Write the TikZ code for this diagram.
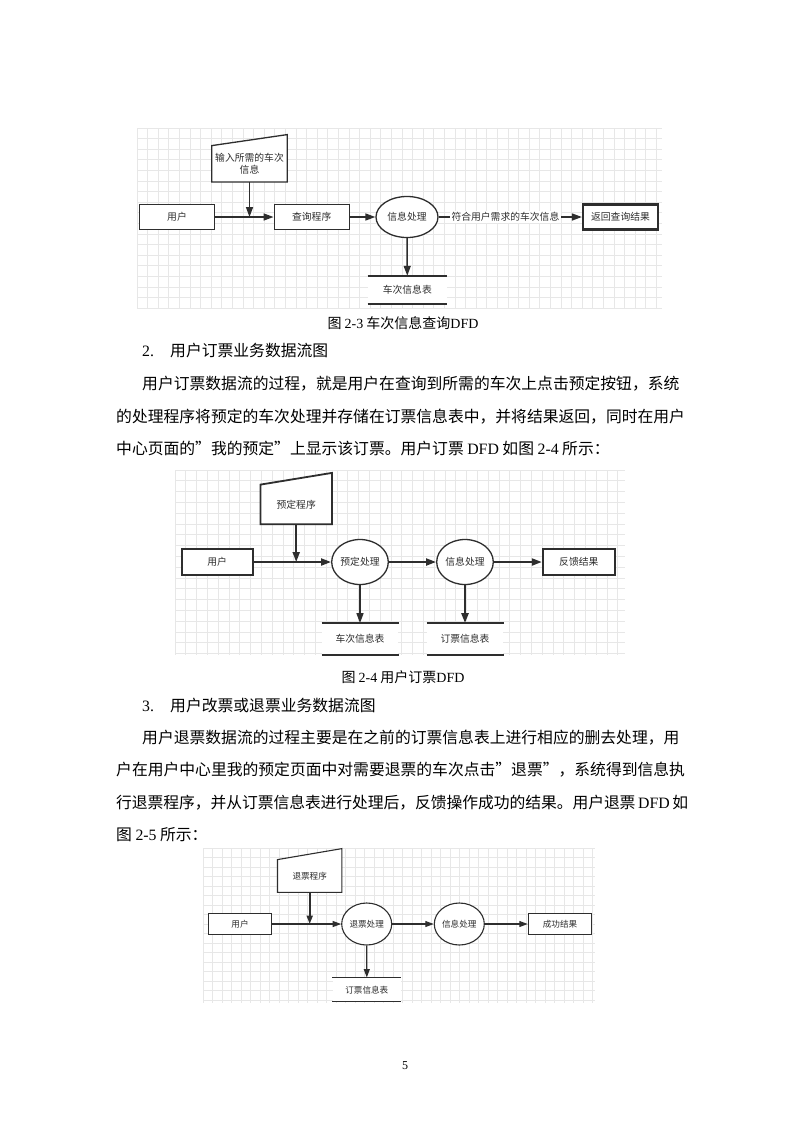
\documentclass[tikz,border=0pt]{standalone}
\usepackage{fontspec}
\setmainfont{Noto Sans CJK SC}
\newfontfamily\lat{Liberation Serif}
\usetikzlibrary{arrows.meta,shapes.geometric}
\XeTeXlinebreaklocale "zh"
\XeTeXlinebreakskip=0pt plus 3pt minus 0.6pt
\definecolor{ink}{HTML}{2E2E2E}
\definecolor{gridc}{HTML}{E7E7E7}
\pgfdeclarelayer{bg}
\pgfdeclarelayer{mid}
\pgfsetlayers{bg,mid,main}
\newcommand\dfA{\fontsize{9.8}{12}\selectfont}
\newcommand\dfC{\fontsize{8.6}{10.5}\selectfont}
\newcommand\bodyf{\fontsize{15.8}{20}\selectfont}
\newcommand\capf{\fontsize{14}{16}\selectfont}
\tikzset{
  gridline/.style={draw=gridc, line width=0.7pt},
  tipA/.style={-{Triangle[length=10pt,width=7pt]}},
  tipC/.style={-{Triangle[length=8.5pt,width=6pt]}},
  flowA/.style={draw=ink, line width=1.5pt, tipA},
  flowB/.style={draw=ink, line width=2pt, tipA},
  flowC/.style={draw=ink, line width=1.1pt, tipC},
  dbox/.style={draw=ink, fill=white, rectangle, inner sep=0pt, text=ink},
  dproc/.style={draw=ink, fill=white, ellipse, inner sep=0pt, text=ink},
  dstore/.style={fill=white, rectangle, inner sep=0pt, text=ink},
  dinput/.style={rectangle, inner sep=0pt, text=ink, align=center},
  lblA/.style={fill=white, inner sep=1.2pt, text=ink, font=\dfA},
  bodyline/.style={anchor=base west, inner sep=0pt, font=\bodyf},
  justline/.style={bodyline, text width=572pt, align=justify},
  captext/.style={anchor=base, inner sep=0pt, font=\capf}
}
\begin{document}
\begin{tikzpicture}[x=1pt,y=-1pt]
\useasboundingbox (0,0) rectangle (793,1122);
\begin{pgfonlayer}{bg}
\fill[white] (0,0) rectangle (793,1122);
% grids
\foreach \x in {137,147.6,...,663} \draw[gridline] (\x,128) -- (\x,309);
\foreach \y in {128,138.6,...,310} \draw[gridline] (137,\y) -- (662,\y);
\foreach \x in {175,185.8,...,626} \draw[gridline] (\x,470) -- (\x,655);
\foreach \y in {470,480.8,...,656} \draw[gridline] (175,\y) -- (625,\y);
\foreach \x in {203,212.5,...,596} \draw[gridline] (\x,848) -- (\x,1003);
\foreach \y in {848,857.5,...,1004} \draw[gridline] (203,\y) -- (595,\y);
\end{pgfonlayer}

% ---------------- Diagram 2-3 ----------------
\node[dbox, line width=1.3pt, minimum width=75pt, minimum height=25pt, font=\dfA] (u1) at (177,217) {用户};
\node[dbox, line width=1.3pt, minimum width=75pt, minimum height=25pt, font=\dfA] (q1) at (311.7,217) {查询程序};
\node[dproc, line width=1.3pt, minimum width=62pt, minimum height=41pt, font=\dfA] (p1) at (407,217) {信息处理};
\node[dbox, line width=2.2pt, minimum width=75pt, minimum height=25pt, font=\dfA] (r1) at (620.5,217) {返回查询结果};
\node[dstore, minimum width=79pt, minimum height=28pt, font=\dfA] (s1) at (407.3,290) {车次信息表};
\draw[ink, line width=1.6pt] (s1.north west) -- (s1.north east) (s1.south west) -- (s1.south east);
\node[dinput, minimum width=75pt, minimum height=36pt, font=\dfA, anchor=south] (in1) at (249.5,182) {输入所需的车次\\信息};
\begin{pgfonlayer}{mid}
\draw[ink, line width=1.3pt, fill=white] (in1.south west) -- (in1.south east) -- ([yshift=11pt]in1.north east) -- (in1.north west) -- cycle;
\end{pgfonlayer}
\draw[flowA] (in1.south) -- (in1.south |- u1.east);
\draw[flowA] (u1.east) -- (q1.west);
\draw[flowA] (q1.east) -- (p1.west);
\draw[flowA] (p1.east) -- node[lblA, pos=0.466] (l1) {符合用户需求的车次信息} (r1.west);
\draw[flowA] (p1.south) -- (s1.north);

\node[captext] (c1) at (403,328.3) {图 {\lat 2-3} 车次信息查询{\lat DFD}};

% ---------------- Text section 2 ----------------
\node[bodyline] (h2n) at (142,356) {{\lat 2.}};
\node[bodyline] (h2t) at (170,356) {用户订票业务数据流图};
\node[justline] (t21) at (116,389) {\parfillskip=0pt\hspace*{26pt}用户订票数据流的过程，就是用户在查询到所需的车次上点击预定按钮，系统};
\node[justline] (t22) at (116,422) {\parfillskip=0pt 的处理程序将预定的车次处理并存储在订票信息表中，并将结果返回，同时在用户};
\node[bodyline] (t23) at (116,454.5) {中心页面的”我的预定”上显示该订票。用户订票 {\lat DFD} 如图 {\lat 2-4} 所示：};

% ---------------- Diagram 2-4 ----------------
\node[dbox, line width=2pt, minimum width=71pt, minimum height=26pt, font=\dfA] (u2) at (217.2,562) {用户};
\node[dproc, line width=1.3pt, minimum width=56.6pt, minimum height=45pt, font=\dfA] (p2a) at (360,562) {预定处理};
\node[dproc, line width=1.3pt, minimum width=56.6pt, minimum height=45pt, font=\dfA] (p2b) at (465,562) {信息处理};
\node[dbox, line width=2pt, minimum width=72pt, minimum height=26pt, font=\dfA] (r2) at (578.8,562) {反馈结果};
\node[dstore, minimum width=76.6pt, minimum height=31pt, font=\dfA] (s2a) at (360,638.8) {车次信息表};
\node[dstore, minimum width=76.6pt, minimum height=31pt, font=\dfA] (s2b) at (465,638.8) {订票信息表};
\draw[ink, line width=2pt] (s2a.north west) -- (s2a.north east) (s2a.south west) -- (s2a.south east);
\draw[ink, line width=2pt] (s2b.north west) -- (s2b.north east) (s2b.south west) -- (s2b.south east);
\node[dinput, minimum width=71pt, minimum height=39.3pt, font=\dfA, anchor=south] (in2) at (296.2,524.3) {预定程序};
\begin{pgfonlayer}{mid}
\draw[ink, line width=1.8pt, fill=white] (in2.south west) -- (in2.south east) -- ([yshift=11.7pt]in2.north east) -- (in2.north west) -- cycle;
\end{pgfonlayer}
\draw[flowB] (in2.south) -- (in2.south |- u2.east);
\draw[flowB] (u2.east) -- (p2a.west);
\draw[flowB] (p2a.east) -- (p2b.west);
\draw[flowB] (p2b.east) -- (r2.west);
\draw[flowA] (p2a.south) -- (s2a.north);
\draw[flowB, line width=2.4pt] (p2b.south) -- (s2b.north);

\node[captext] (c2) at (403,682.3) {图 {\lat 2-4} 用户订票{\lat DFD}};

% ---------------- Text section 3 ----------------
\node[bodyline] (h3n) at (142,711) {{\lat 3.}};
\node[bodyline] (h3t) at (170,711) {用户改票或退票业务数据流图};
\node[justline] (t31) at (116,743) {\parfillskip=0pt\hspace*{26pt}用户退票数据流的过程主要是在之前的订票信息表上进行相应的删去处理，用};
\node[justline] (t32) at (116,775.5) {\parfillskip=0pt 户在用户中心里我的预定页面中对需要退票的车次点击”退票”，系统得到信息执};
\node[justline] (t33) at (116,808) {\parfillskip=0pt 行退票程序，并从订票信息表进行处理后，反馈操作成功的结果。用户退票{\lat\,DFD\,}如};
\node[bodyline] (t34) at (116,840.5) {图 {\lat 2-5} 所示：};

% ---------------- Diagram 2-5 ----------------
\node[dbox, line width=1.1pt, minimum width=63.4pt, minimum height=21.7pt, font=\dfC] (u3) at (240,924) {用户};
\node[dproc, line width=1.1pt, minimum width=50pt, minimum height=42pt, font=\dfC] (p3a) at (366.7,924) {退票处理};
\node[dproc, line width=1.1pt, minimum width=50pt, minimum height=42pt, font=\dfC] (p3b) at (459.3,924) {信息处理};
\node[dbox, line width=1.1pt, minimum width=63.4pt, minimum height=21.7pt, font=\dfC] (r3) at (560,924) {成功结果};
\node[dstore, minimum width=68.3pt, minimum height=24pt, font=\dfC] (s3) at (366.8,989.7) {订票信息表};
\draw[ink, line width=1.1pt] (s3.north west) -- (s3.north east) (s3.south west) -- (s3.south east);
\node[dinput, minimum width=64pt, minimum height=32.3pt, font=\dfC, anchor=south] (in3) at (309.7,892.3) {退票程序};
\begin{pgfonlayer}{mid}
\draw[ink, line width=1.1pt, fill=white] (in3.south west) -- (in3.south east) -- ([yshift=11pt]in3.north east) -- (in3.north west) -- cycle;
\end{pgfonlayer}
\draw[flowC, line width=2pt] (in3.south) -- (in3.south |- u3.east);
\draw[flowC] (u3.east) -- (p3a.west);
\draw[flowC] (p3a.east) -- (p3b.west);
\draw[flowC] (p3b.east) -- (r3.west);
\draw[flowC] (p3a.south) -- (s3.north);

% page number
\node[anchor=base, inner sep=0pt, font=\lat\fontsize{12}{14}\selectfont] (pg) at (405,1069) {5};
\end{tikzpicture}
\end{document}
